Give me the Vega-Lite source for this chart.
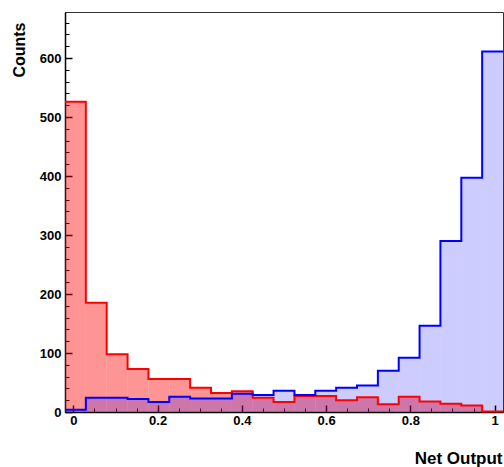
{
  "$schema": "https://vega.github.io/schema/vega-lite/v6.json",
  "width": 438,
  "height": 400,
  "autosize": {"type": "none"},
  "padding": {"left": 65, "top": 12, "right": 1, "bottom": 55},
  "config": {
    "font": "Liberation Sans",
    "view": {"stroke": "#333333", "strokeWidth": 1}
  },
  "data": {
    "values": [
      {"x0": -0.02, "x1": 0.0295, "bkg": 526, "sig": 4},
      {"x0": 0.0295, "x1": 0.079, "bkg": 185, "sig": 24},
      {"x0": 0.079, "x1": 0.1286, "bkg": 98, "sig": 24},
      {"x0": 0.1286, "x1": 0.1781, "bkg": 73, "sig": 22},
      {"x0": 0.1781, "x1": 0.2276, "bkg": 56, "sig": 17},
      {"x0": 0.2276, "x1": 0.2771, "bkg": 56, "sig": 26},
      {"x0": 0.2771, "x1": 0.3267, "bkg": 41, "sig": 23},
      {"x0": 0.3267, "x1": 0.3762, "bkg": 32, "sig": 23},
      {"x0": 0.3762, "x1": 0.4257, "bkg": 35, "sig": 31},
      {"x0": 0.4257, "x1": 0.4752, "bkg": 24, "sig": 29},
      {"x0": 0.4752, "x1": 0.5248, "bkg": 17, "sig": 36},
      {"x0": 0.5248, "x1": 0.5743, "bkg": 27, "sig": 29},
      {"x0": 0.5743, "x1": 0.6238, "bkg": 27, "sig": 36},
      {"x0": 0.6238, "x1": 0.6733, "bkg": 20, "sig": 41},
      {"x0": 0.6733, "x1": 0.7229, "bkg": 25, "sig": 45},
      {"x0": 0.7229, "x1": 0.7724, "bkg": 13, "sig": 70},
      {"x0": 0.7724, "x1": 0.8219, "bkg": 26, "sig": 92},
      {"x0": 0.8219, "x1": 0.8714, "bkg": 18, "sig": 146},
      {"x0": 0.8714, "x1": 0.921, "bkg": 14, "sig": 290},
      {"x0": 0.921, "x1": 0.9705, "bkg": 11, "sig": 397},
      {"x0": 0.9705, "x1": 1.02, "bkg": 1, "sig": 611}
    ]
  },
  "transform": [{"fold": ["bkg", "sig"], "as": ["series", "n"]}],
  "resolve": {"axis": {"x": "independent", "y": "independent"}},
  "layer": [
    {
      "mark": {"type": "rect", "strokeWidth": 0},
      "encoding": {
        "x": {
          "field": "x0", "type": "quantitative",
          "scale": {"domain": [-0.02, 1.02], "nice": false, "zero": false},
          "axis": {
            "values": [0, 0.2, 0.4, 0.6, 0.8, 1],
            "format": "~g",
            "domainColor": "#000000", "domainWidth": 1.5,
            "tickColor": "#000000", "tickSize": -7, "tickWidth": 1.5,
            "labelFont": "Liberation Sans", "labelFontWeight": "bold", "labelFontSize": 13,
            "labelColor": "#000000", "labelPadding": 9, "labelFlush": false,
            "grid": false,
            "title": "Net Output",
            "titleFont": "Liberation Sans", "titleFontWeight": "bold", "titleFontSize": 17,
            "titleColor": "#000000",
            "titleAnchor": "end", "titleAlign": "right", "titleBaseline": "alphabetic",
            "titleX": 437, "titleY": 51
          }
        },
        "x2": {"field": "x1"},
        "y": {
          "field": "n", "type": "quantitative",
          "scale": {"domain": [0, 678], "nice": false},
          "axis": {
            "values": [0, 100, 200, 300, 400, 500, 600],
            "domainColor": "#000000", "domainWidth": 1.5,
            "tickColor": "#000000", "tickSize": -7, "tickWidth": 1.5,
            "labelFont": "Liberation Sans", "labelFontWeight": "bold", "labelFontSize": 13,
            "labelColor": "#000000", "labelPadding": 11, "labelFlush": false,
            "grid": false,
            "title": "Counts",
            "titleFont": "Liberation Sans", "titleFontWeight": "bold", "titleFontSize": 16,
            "titleColor": "#000000",
            "titleAngle": 270, "titleAnchor": "end", "titleAlign": "right", "titleBaseline": "alphabetic",
            "titleX": -41, "titleY": 10, "titleLimit": 200
          }
        },
        "y2": {"datum": 0},
        "color": {
          "field": "series", "type": "nominal",
          "scale": {"domain": ["bkg", "sig"], "range": ["#ff0000", "#0000ff"]},
          "legend": null
        },
        "fillOpacity": {
          "field": "series", "type": "nominal",
          "scale": {"domain": ["bkg", "sig"], "range": [0.42, 0.2]},
          "legend": null
        }
      }
    },
    {
      "transform": [{"fold": ["x0", "x1"], "as": ["edge", "ex"]}],
      "mark": {"type": "line", "strokeWidth": 2, "interpolate": "linear"},
      "encoding": {
        "x": {
          "field": "ex", "type": "quantitative",
          "scale": {"domain": [-0.02, 1.02], "nice": false, "zero": false},
          "axis": {
            "orient": "bottom",
            "values": [0.05, 0.1, 0.15, 0.25, 0.3, 0.35, 0.45, 0.5, 0.55, 0.65, 0.7, 0.75, 0.85, 0.9, 0.95],
            "labels": false, "domain": false, "grid": false, "title": null,
            "tickColor": "#000000", "tickSize": -4, "tickWidth": 1
          }
        },
        "y": {
          "field": "n", "type": "quantitative",
          "scale": {"domain": [0, 678], "nice": false},
          "axis": {
            "orient": "left",
            "values": [20, 40, 60, 80, 120, 140, 160, 180, 220, 240, 260, 280, 320, 340, 360, 380, 420, 440, 460, 480, 520, 540, 560, 580, 620, 640, 660],
            "labels": false, "domain": false, "grid": false, "title": null,
            "tickColor": "#000000", "tickSize": -4, "tickWidth": 1
          }
        },
        "color": {
          "field": "series", "type": "nominal",
          "scale": {"domain": ["bkg", "sig"], "range": ["#ff0000", "#0000ff"]},
          "legend": null
        },
        "order": [
          {"field": "ex", "type": "quantitative", "sort": "ascending"},
          {"field": "edge", "type": "nominal", "sort": "descending"}
        ]
      }
    }
  ]
}
